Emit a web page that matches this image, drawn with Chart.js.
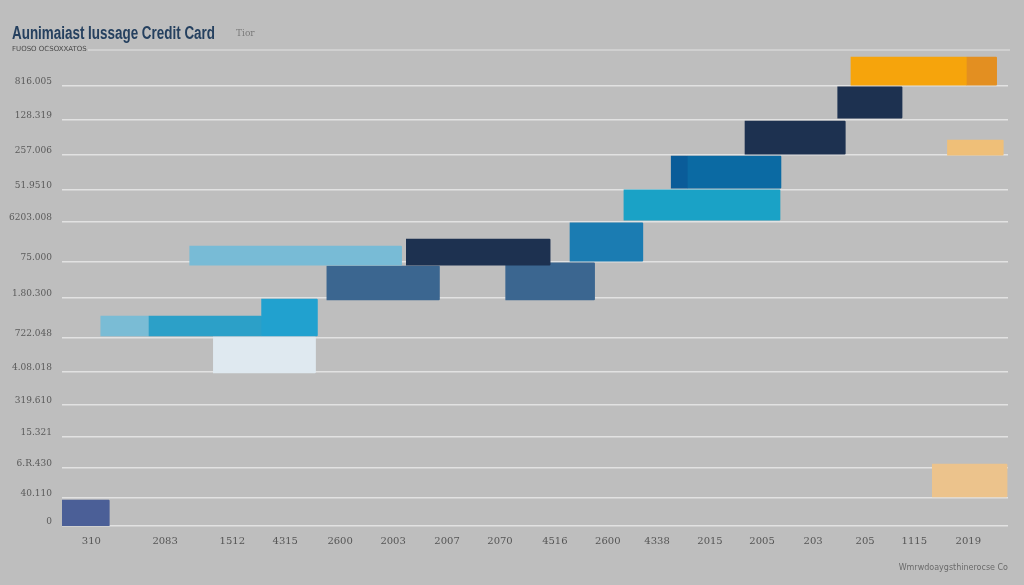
<!DOCTYPE html>
<html>
<head>
<meta charset="utf-8">
<script src="https://cdn.jsdelivr.net/npm/chart.js@4/dist/chart.umd.min.js"></script>
<style>
  html, body { margin: 0; padding: 0; background: #bebebe; }
  #wrap { width: 1024px; height: 585px; position: relative; }
</style>
</head>
<body>
<div id="wrap"><canvas id="chart"></canvas></div>
<script>
// Credit card usage — floating bar chart

// axis labels and where they sit on each scale
const xLabels  = ['310', '2083', '1512', '4315', '2600', '2003', '2007', '2070', '4516',
                  '2600', '4338', '2015', '2005', '203', '205', '1115', '2019'];
const xTickPos = [3.1, 10.9, 18.0, 23.6, 29.4, 35.0, 40.7, 46.3, 52.1,
                  57.7, 62.9, 68.5, 74.0, 79.4, 84.9, 90.1, 95.8];
const yLabels  = ['0', '40.110', '6.R.430', '15.321', '319.610', '4.08.018', '722.048',
                  '1.80.300', '75.000', '6203.008', '51.9510', '257.006', '128.319', '816.005'];
const yTickPos = [0, 6.4, 13.2, 20.2, 27.5, 35.0, 42.7, 51.8, 60.0, 69.1, 76.4, 84.3, 92.3, 100];

// one entry per bar: horizontal span and vertical span
const barStart = [83.4, 95.6, 82.0, 72.2, 93.6, 64.4, 66.1, 59.4, 53.7, 13.5, 36.4, 28.0, 46.9, 21.1, 9.2, 4.1, 16.0, 92.0, 0.0];
const barEnd   = [95.6, 98.8, 88.8, 82.8, 99.5, 66.1, 76.0, 75.9, 61.4, 35.9, 51.6, 39.9, 56.3, 27.0, 21.1, 9.2, 26.8, 99.9, 5.0];
const barLow   = [100.2, 100.2, 92.7, 84.5, 84.3, 76.8, 76.8, 69.5, 60.2, 59.3, 59.3, 51.4, 51.4, 43.2, 43.2, 43.2, 34.8, 6.6, 0.0];
const barHigh  = [106.6, 106.6, 99.8, 92.0, 87.7, 84.1, 84.1, 76.4, 68.9, 63.6, 65.2, 59.1, 59.8, 51.6, 47.7, 47.7, 43.0, 14.1, 5.9];

const barColors = ['#f6a40c', '#e38f21', '#1d3150', '#1d3150', '#efbf78', '#0a5c99', '#0b6aa3',
                   '#1aa2c6', '#1b7cb2', '#78bbd6', '#1d3150', '#3b6690', '#3b6690',
                   '#21a1cf', '#2ca0c8', '#7abcd5', '#dfe9f0', '#ecc38c', '#4b5f97'];

const datasets = barStart.map((s, i) => ({
  data: [{ x: [s, barEnd[i]], y: (barLow[i] + barHigh[i]) / 2 }],
  backgroundColor: barColors[i],
  borderWidth: 0,
  borderRadius: 1,
  grouped: false,
  barThickness: 10,
}));

// bar heights follow the y scale, so set them once the layout is known
const fitBarHeights = {
  id: 'fitBarHeights',
  afterLayout(chart) {
    const y = chart.scales.y;
    chart.data.datasets.forEach((ds, i) => {
      ds.barThickness = Math.abs(y.getPixelForValue(barHigh[i]) - y.getPixelForValue(barLow[i]));
    });
  }
};

// title block with a rule after the subtitle
const header = {
  id: 'header',
  afterDraw(chart) {
    const ctx = chart.ctx;
    ctx.save();
    ctx.textBaseline = 'alphabetic';
    ctx.textAlign = 'left';
    ctx.fillStyle = '#25405f';
    ctx.font = '600 18px "Liberation Sans", Arial, sans-serif';
    const title = 'Aunimaiast Iussage Credit Card';
    const w = ctx.measureText(title).width;
    const sx = 203 / w;
    ctx.save();
    ctx.translate(12, 39);
    ctx.scale(sx, 1);
    ctx.fillText(title, 0, 0);
    ctx.restore();

    ctx.fillStyle = '#7a7a7a';
    ctx.font = '9px "DejaVu Serif", serif';
    ctx.fillText('Tior', 236, 36);

    ctx.fillStyle = '#4a4a4a';
    ctx.font = '7px "DejaVu Sans", sans-serif';
    ctx.fillText('FUOSO OCSOXXATOS', 12, 51);

    ctx.strokeStyle = '#d6d6d6';
    ctx.lineWidth = 1.5;
    ctx.beginPath();
    ctx.moveTo(88, 50);
    ctx.lineTo(1010, 50);
    ctx.stroke();
    ctx.restore();
  }
};

new Chart(document.getElementById('chart'), {
  type: 'bar',
  data: { datasets },
  plugins: [fitBarHeights, header],
  options: {
    indexAxis: 'y',
    responsive: true,
    maintainAspectRatio: false,
    animation: false,
    layout: { padding: { top: 53, right: 16, left: 0, bottom: 0 } },
    plugins: { legend: { display: false }, tooltip: { enabled: false } },
    scales: {
      x: {
        type: 'linear',
        min: 0, max: 100,
        offset: false,
        afterBuildTicks: axis => { axis.ticks = xTickPos.map(v => ({ value: v })); },
        afterFit: scale => { scale.height = 59; },
        grid: { display: false, drawTicks: false },
        border: { display: false },
        ticks: {
          padding: 9,
          autoSkip: false,
          maxRotation: 0,
          color: '#555',
          font: { family: '"DejaVu Serif", serif', size: 10 },
          callback: (v, i) => xLabels[i],
        },
        title: {
          display: true,
          text: 'Wmrwdoaygsthinerocse Co',
          align: 'end',
          color: '#6a6a6a',
          font: { family: '"DejaVu Sans", sans-serif', size: 8 },
          padding: { top: 2, bottom: 12 },
        }
      },
      y: {
        type: 'linear',
        min: 0, max: 107.5,
        offset: false,
        afterBuildTicks: axis => { axis.ticks = yTickPos.map(v => ({ value: v })); },
        afterFit: scale => { scale.width = 62; },
        grid: { color: '#e2e2e2', lineWidth: 1.5, drawTicks: false, offset: false },
        border: { display: false },
        ticks: {
          padding: 10,
          labelOffset: -4,
          autoSkip: false,
          color: '#5a5a5a',
          font: { family: '"DejaVu Serif", serif', size: 9 },
          callback: (v, i) => yLabels[i],
        }
      }
    }
  }
});
</script>
</body>
</html>
